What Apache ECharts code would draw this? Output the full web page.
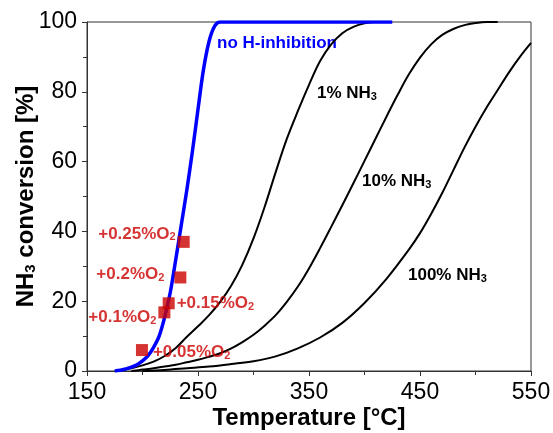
<!DOCTYPE html>
<html>
<head>
<meta charset="utf-8">
<script src="https://cdn.jsdelivr.net/npm/echarts@6/dist/echarts.min.js"></script>
<style>
  html, body { margin: 0; padding: 0; background: #fff; }
  #main { width: 553px; height: 433px; }
</style>
</head>
<body>
<div id="main"></div>
<script>
// 数据
var blueT = [175, 180, 185, 190, 195, 200, 205, 210, 215, 220, 225, 230, 235, 240, 245, 250, 255, 260, 265, 270, 275, 300, 425];
var blueV = [0, 0.2, 0.6, 1.1, 1.8, 2.9, 4.4, 6.8, 10, 15.5, 22.5, 32, 42, 52, 63, 75, 86.5, 94.5, 98.8, 100, 100, 100, 100];

var nh1T = [175, 190, 200, 210, 220, 230, 240, 250, 260, 270, 280, 290, 300, 310, 320, 330, 340, 350, 360, 370, 380, 390, 400, 410, 420];
var nh1V = [0, 0.8, 1.6, 2.7, 4.3, 6.6, 9.8, 12.8, 16, 19.8, 24.5, 30.5, 38, 47, 57, 66.5, 74.5, 82, 88.8, 93.6, 96.8, 98.6, 99.6, 100, 100];

var nh10T = [190, 200, 210, 220, 230, 240, 250, 260, 270, 280, 290, 300, 310, 320, 330, 340, 350, 360, 370, 380, 390, 400, 410, 420, 430, 440, 450, 460, 470, 480, 490, 500, 510, 520];
var nh10V = [0, 0.4, 0.8, 1.3, 1.8, 2.5, 3.2, 4.1, 5.1, 6.5, 8.3, 10.4, 13, 16, 19.8, 24.2, 29.4, 35.2, 41.3, 47.5, 53.8, 60.2, 66.6, 73, 79.2, 85, 89.8, 93.6, 96.3, 98, 99.1, 99.7, 100, 100];

var nh100T = [200, 220, 240, 260, 280, 300, 320, 340, 360, 380, 400, 420, 440, 450, 460, 470, 480, 490, 500, 510, 520, 530, 540, 550];
var nh100V = [0, 0.3, 0.8, 1.3, 2, 2.8, 4.2, 6.5, 9.6, 13.8, 19.5, 26.5, 34.8, 39.5, 45, 51, 57.5, 64, 70, 75.5, 80.5, 85.5, 90, 94];

// O2 添加点
var o2Labels = ['+0.25%O{s|2}', '+0.2%O{s|2}', '+0.15%O{s|2}', '+0.1%O{s|2}', '+0.05%O{s|2}'];
var o2T = [237.1, 234.1, 223.6, 219.7, 199.5];
var o2V = [37.0, 26.8, 19.4, 16.8, 6.0];

var FONT = "'Liberation Sans', Arial, sans-serif";

function pairs(t, v) {
  var out = [];
  for (var i = 0; i < t.length; i++) out.push([t[i], v[i]]);
  return out;
}

// 标签摆放
var o2Place = [
  { position: 'left', offset: [0, -8] },
  { position: 'left', offset: [-8, -3] },
  { position: 'right', offset: [0, 0] },
  { position: 'left', offset: [0, 5] },
  { position: 'right', offset: [3, 2] }
];
var o2Data = o2T.map(function (t, i) {
  return {
    value: [t, o2V[i]],
    label: {
      show: true,
      formatter: o2Labels[i],
      position: o2Place[i].position,
      offset: o2Place[i].offset,
      distance: 2
    }
  };
});

var subRich = {
  s: { fontSize: 11, fontWeight: 'bold', verticalAlign: 'bottom', fontFamily: FONT, padding: [6, 0, 0, 0] }
};

function curve(name, t, v, color, width) {
  return {
    name: name, type: 'line', data: pairs(t, v),
    smooth: 0.35, symbol: 'none',
    lineStyle: { color: color, width: width }
  };
}

var chart = echarts.init(document.getElementById('main'));
var option = {
  animation: false,
  grid: {
    left: 87, right: 22, top: 22, bottom: 62,
    outerBoundsMode: 'none',
    show: true, borderColor: '#333', borderWidth: 1
  },
  xAxis: {
    type: 'value',
    min: 150, max: 550, interval: 100,
    name: 'Temperature [°C]',
    nameLocation: 'middle',
    nameGap: 35,
    nameMoveOverlap: false,
    nameTextStyle: { fontFamily: FONT, fontSize: 24, fontWeight: 'bold', color: '#000' },
    axisLine: { show: true, lineStyle: { color: '#333', width: 1 } },
    axisTick: { show: true, length: 5, lineStyle: { color: '#333' } },
    minorTick: { show: true, splitNumber: 2, length: 4, lineStyle: { color: '#333' } },
    splitLine: { show: false },
    axisLabel: { fontFamily: FONT, fontSize: 23, color: '#000', margin: 10 }
  },
  yAxis: {
    type: 'value',
    min: 0, max: 100, interval: 20,
    name: 'NH{s|3} conversion [%]',
    nameLocation: 'middle',
    nameGap: 49,
    nameMoveOverlap: false,
    nameTextStyle: {
      fontFamily: FONT, fontSize: 24, fontWeight: 'bold', color: '#000',
      rich: { s: { fontSize: 15, fontWeight: 'bold', fontFamily: FONT, verticalAlign: 'bottom', padding: [8, 0, 0, 0] } }
    },
    axisLine: { show: true, lineStyle: { color: '#333', width: 1 } },
    axisTick: { show: true, length: 5, lineStyle: { color: '#333' } },
    minorTick: { show: true, splitNumber: 2, length: 4, lineStyle: { color: '#333' } },
    splitLine: { show: false },
    axisLabel: { fontFamily: FONT, fontSize: 23, color: '#000', margin: 10 }
  },
  series: [
    curve('100% NH3', nh100T, nh100V, '#000', 2),
    curve('10% NH3', nh10T, nh10V, '#000', 2),
    curve('1% NH3', nh1T, nh1V, '#000', 2),
    curve('no H-inhibition', blueT, blueV, '#0000ff', 3.5),
    {
      name: 'O2', type: 'scatter', data: o2Data,
      symbol: 'rect', symbolSize: 12,
      itemStyle: { color: '#cc0000' },
      label: {
        color: '#cc0000', fontFamily: FONT, fontSize: 17, fontWeight: 'bold',
        rich: { s: { fontSize: 11, fontWeight: 'bold', fontFamily: FONT, color: '#cc0000', verticalAlign: 'bottom', padding: [7, 0, 0, 0] } }
      },
      z: 5
    }
  ],
  graphic: [
    {
      type: 'text', left: 217, top: 35,
      style: { text: 'no H-inhibition', fill: '#0000ff', font: 'bold 17px ' + FONT }
    },
    {
      type: 'text', left: 317, top: 85,
      style: { text: '1% NH{s|3}', fill: '#000', font: 'bold 17px ' + FONT, rich: subRich }
    },
    {
      type: 'text', left: 362, top: 173,
      style: { text: '10% NH{s|3}', fill: '#000', font: 'bold 17px ' + FONT, rich: subRich }
    },
    {
      type: 'text', left: 408, top: 267,
      style: { text: '100% NH{s|3}', fill: '#000', font: 'bold 17px ' + FONT, rich: subRich }
    }
  ]
};
chart.setOption(option);
</script>
</body>
</html>
